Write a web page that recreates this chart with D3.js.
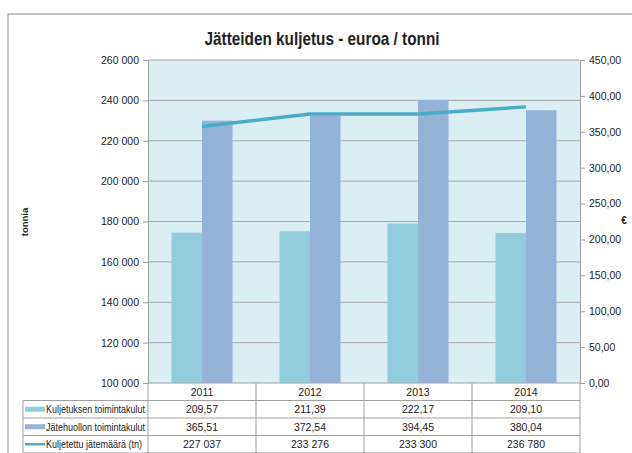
<!DOCTYPE html>
<html><head><meta charset="utf-8">
<script src="https://cdn.jsdelivr.net/npm/d3@7"></script>
<style>
body{margin:0;background:#fff;}
text{font-family:"Liberation Sans Narrow","Liberation Sans",Arial,sans-serif;fill:#222;}
</style></head>
<body><svg id="c" width="632" height="453"></svg>
<script>
const years = ["2011","2012","2013","2014"];
const kuljetus = [209.57, 211.39, 222.17, 209.10];
const jatehuolto = [365.51, 372.54, 394.45, 380.04];
const maara = [227037, 233276, 233300, 236780];
const leftTicks = [100000,120000,140000,160000,180000,200000,220000,240000,260000];
const rightTicks = [0,50,100,150,200,250,300,350,400,450];
const seriesNames = ["Kuljetuksen toimintakulut","Jätehuollon toimintakulut","Kuljetettu jätemäärä (tn)"];
const colors = ["#92CDDC","#95B3D7","#4BACC6"];

const svg = d3.select("#c");
const L=148, R=580, T=60, B=383;
const fmtInt = v => d3.format(",d")(v).replace(/,/g,"\u00a0");
const fmtDec = v => d3.format(".2f")(v).replace(".",",");

// frame
svg.append("rect").attr("x",8).attr("y",14).attr("width",700).attr("height",500)
  .attr("fill","#fff").attr("stroke","#888").attr("stroke-width",1);

const x = d3.scaleBand().domain(years).range([L,R]);
const yL = d3.scaleLinear().domain([100000,260000]).range([B,T]);
const yR = d3.scaleLinear().domain([0,450]).range([B,T]);
const x1 = d3.scaleBand().domain([0,1]).range([0,x.bandwidth()]).paddingOuter(0.77).paddingInner(0);

svg.append("rect").attr("x",L).attr("y",T).attr("width",R-L).attr("height",B-T).attr("fill","#DAEEF3");

// gridlines
svg.append("g").selectAll("line").data(leftTicks.slice(1)).join("line")
  .attr("x1",L).attr("x2",R).attr("y1",d=>yL(d)).attr("y2",d=>yL(d))
  .attr("stroke","#A6A6A6").attr("stroke-width",1);

// bars
[kuljetus, jatehuolto].forEach((arr,si)=>{
  svg.append("g").selectAll("rect").data(arr).join("rect")
    .attr("x",(d,i)=>x(years[i])+x1(si)).attr("width",x1.bandwidth())
    .attr("y",d=>yR(d)).attr("height",d=>B-yR(d)).attr("fill",colors[si]);
});

// line
svg.append("path").datum(maara)
  .attr("d",d3.line().x((d,i)=>x(years[i])+x.bandwidth()/2).y(d=>yL(d)))
  .attr("fill","none").attr("stroke",colors[2]).attr("stroke-width",3.5).attr("stroke-linejoin","round");

// axes
const axL = svg.append("g").attr("transform",`translate(${L},0)`)
  .call(d3.axisLeft(yL).tickValues(leftTicks).tickFormat(fmtInt).tickSize(5).tickPadding(4));
const axR = svg.append("g").attr("transform",`translate(${R},0)`)
  .call(d3.axisRight(yR).tickValues(rightTicks).tickFormat(fmtDec).tickSize(5).tickPadding(4));
[axL,axR].forEach(a=>{
  a.select(".domain").attr("stroke","#A0A0A0");
  a.selectAll(".tick line").attr("stroke","#A0A0A0");
  a.selectAll(".tick text").attr("font-size","10.5px").attr("fill","#333")
   .style("font-family",'"Liberation Sans Narrow","Liberation Sans",Arial,sans-serif');
});
svg.append("line").attr("x1",L).attr("x2",R).attr("y1",B).attr("y2",B).attr("stroke","#A0A0A0");

// title
svg.append("text").attr("x",322).attr("y",45).attr("text-anchor","middle")
  .attr("font-size","19px").attr("font-weight","bold").attr("fill","#000")
  .attr("textLength",235).attr("lengthAdjust","spacingAndGlyphs")
  .style("font-family",'"Liberation Sans",Arial,sans-serif')
  .text("Jätteiden kuljetus - euroa / tonni");

svg.append("text").attr("transform","translate(28,222) rotate(-90)").attr("text-anchor","middle")
  .attr("font-size","9.5px").attr("font-weight","bold").style("font-family",'"Liberation Sans",Arial,sans-serif')
  .text("tonnia");
svg.append("text").attr("x",624).attr("y",224).attr("text-anchor","middle")
  .attr("font-size","10px").attr("font-weight","bold").text("€");

// data table
const rowH = 17.5, tY = B;
const g = svg.append("g");
const lc = "#A0A0A0";
for(let r=1;r<=4;r++){
  g.append("line").attr("x1",23).attr("x2",R).attr("y1",tY+rowH*r).attr("y2",tY+rowH*r).attr("stroke",lc);
}
g.append("line").attr("x1",23).attr("x2",23).attr("y1",tY+rowH).attr("y2",453).attr("stroke",lc);
[L, ...years.map(yv=>x(yv)+x.bandwidth())].forEach(xx=>{
  g.append("line").attr("x1",xx).attr("x2",xx).attr("y1",tY).attr("y2",453).attr("stroke",lc);
});
const rows = [years, kuljetus.map(fmtDec), jatehuolto.map(fmtDec), maara.map(fmtInt)];
rows.forEach((row,r)=>{
  g.append("g").selectAll("text").data(row).join("text")
    .attr("x",(d,i)=>x(years[i])+x.bandwidth()/2).attr("y",tY+rowH*r+rowH/2+4)
    .attr("text-anchor","middle").attr("font-size","10.5px").attr("fill","#333").text(d=>d);
});
const legendLen = [99, 99, 96];
seriesNames.forEach((n,si)=>{
  const cy = tY+rowH*(si+1)+rowH/2;
  if(si<2){
    g.append("rect").attr("x",25).attr("y",cy-2.5).attr("width",20).attr("height",5).attr("fill",colors[si]);
  } else {
    g.append("line").attr("x1",25).attr("x2",45).attr("y1",cy).attr("y2",cy).attr("stroke",colors[2]).attr("stroke-width",2.5);
  }
  g.append("text").attr("x",46).attr("y",cy+4).attr("font-size","10.5px").attr("fill","#333")
    .attr("textLength",legendLen[si]).attr("lengthAdjust","spacingAndGlyphs").text(n);
});
</script></body></html>
